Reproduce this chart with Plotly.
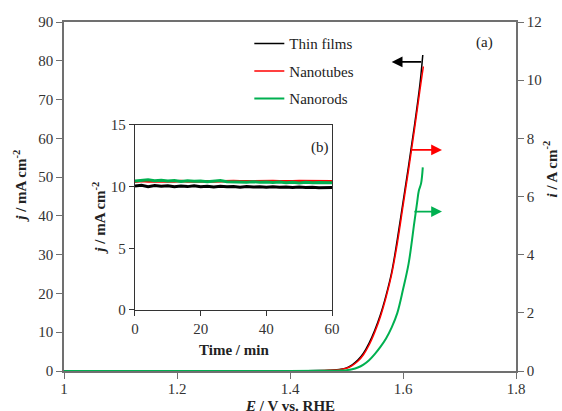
import plotly.graph_objects as go

# ---- main LSV data ----
E_tf = [1.00, 1.10, 1.20, 1.30, 1.40, 1.45, 1.47, 1.49, 1.50, 1.51, 1.52, 1.53, 1.54, 1.55,
        1.56, 1.57, 1.58, 1.59, 1.60, 1.61, 1.62, 1.63, 1.635]
j_thin_films = [0, 0, 0, 0, 0.02, 0.1, 0.2, 0.45, 0.8, 1.6, 2.8, 4.6, 7.2, 10.5,
                14.5, 19.5, 25.5, 34, 43.5, 53, 63, 74, 81.5]
E_nt = [1.00, 1.10, 1.20, 1.30, 1.40, 1.45, 1.47, 1.49, 1.50, 1.51, 1.52, 1.53, 1.54, 1.55,
        1.56, 1.57, 1.58, 1.59, 1.60, 1.61, 1.62, 1.63, 1.636]
i_nanotubes = [0, 0, 0, 0, 0.003, 0.011, 0.024, 0.053, 0.093, 0.187, 0.333, 0.56, 0.893, 1.333,
               1.867, 2.533, 3.333, 4.4, 5.667, 6.933, 8.267, 9.667, 10.47]
E_nr = [1.00, 1.10, 1.20, 1.30, 1.40, 1.45, 1.47, 1.49, 1.50, 1.51, 1.52, 1.53, 1.54, 1.55,
        1.56, 1.57, 1.58, 1.59, 1.60, 1.61, 1.62, 1.625, 1.628, 1.632, 1.635]
i_nanorods = [0, 0, 0, 0, 0.002, 0.005, 0.01, 0.02, 0.03, 0.06, 0.12, 0.22, 0.37, 0.58,
              0.83, 1.12, 1.5, 2.0, 2.8, 3.7, 5.1, 5.8, 6.2, 6.45, 7.0]

# ---- inset stability data ----
t_min = list(range(0, 61, 2))
j_tf_t = [10.05, 10.1, 10.0, 10.08, 10.02, 10.06, 9.98, 10.04, 10.0, 10.07, 9.99, 10.03, 9.97, 10.02,
          9.98, 10.0, 9.95, 10.01, 9.96, 9.99, 9.94, 9.98, 9.95, 9.97, 9.92, 9.96, 9.93, 9.95, 9.9, 9.94, 9.92]
j_nt_t = [10.4, 10.45, 10.42, 10.44, 10.4, 10.43, 10.41, 10.45, 10.42, 10.44, 10.4, 10.43, 10.42, 10.45,
          10.43, 10.46, 10.44, 10.45, 10.43, 10.46, 10.44, 10.45, 10.43, 10.46, 10.44, 10.45, 10.44, 10.46, 10.43, 10.45, 10.44]
j_nr_t = [10.45, 10.5, 10.55, 10.48, 10.52, 10.45, 10.5, 10.42, 10.48, 10.43, 10.46, 10.4, 10.45, 10.5,
          10.4, 10.38, 10.42, 10.36, 10.4, 10.35, 10.38, 10.33, 10.37, 10.32, 10.36, 10.3, 10.35, 10.31, 10.34, 10.3, 10.32]

BLACK = "#000000"
RED = "#ff0000"
GREEN = "#00b050"
FONT = "Liberation Serif"
AX = "#707070"
TXT = "#222222"

fig = go.Figure()
fig.add_trace(go.Scatter(x=E_tf, y=j_thin_films, name="Thin films", mode="lines", legendgroup="a",
                         line=dict(color=BLACK, width=1.5, shape="spline"), xaxis="x", yaxis="y"))
fig.add_trace(go.Scatter(x=E_nt, y=i_nanotubes, name="Nanotubes", mode="lines", legendgroup="b",
                         line=dict(color=RED, width=1.5, shape="spline"), xaxis="x", yaxis="y2"))
fig.add_trace(go.Scatter(x=E_nr, y=i_nanorods, name="Nanorods", mode="lines", legendgroup="c",
                         line=dict(color=GREEN, width=2, shape="spline"), xaxis="x", yaxis="y2"))

# inset traces
fig.add_trace(go.Scatter(x=t_min, y=j_nt_t, mode="lines", showlegend=False,
                         line=dict(color=RED, width=2.5), xaxis="x3", yaxis="y3"))
fig.add_trace(go.Scatter(x=t_min, y=j_nr_t, mode="lines", showlegend=False,
                         line=dict(color=GREEN, width=3), xaxis="x3", yaxis="y3"))
fig.add_trace(go.Scatter(x=t_min, y=j_tf_t, mode="lines", showlegend=False,
                         line=dict(color=BLACK, width=3), xaxis="x3", yaxis="y3"))

tickfont = dict(family=FONT, size=15, color="#333333")

fig.update_layout(
    width=562, height=411,
    margin=dict(l=64, r=46, t=22, b=40),
    paper_bgcolor="white", plot_bgcolor="white",
    font=dict(family=FONT, size=15, color=TXT),
    showlegend=True,
    legend=dict(x=0.41, y=0.985, xanchor="left", yanchor="top", bgcolor="rgba(0,0,0,0)",
                font=dict(family=FONT, size=15, color=TXT), itemwidth=30,
                tracegroupgap=5, traceorder="grouped"),
    xaxis=dict(domain=[0, 1], range=[1, 1.8], tickvals=[1, 1.2, 1.4, 1.6, 1.8],
               ticktext=["1", "1.2", "1.4", "1.6", "1.8"],
               showline=True, linecolor=AX, linewidth=1.5, mirror=True, ticks="outside",
               ticklen=6, tickcolor=AX, showgrid=False, zeroline=False, tickfont=tickfont,
               ticklabelstandoff=-3),
    yaxis=dict(range=[0, 90], tickvals=list(range(0, 91, 10)), showline=True, linecolor=AX,
               linewidth=1.5, ticks="outside", ticklen=6, tickcolor=AX, showgrid=False,
               zeroline=False, tickfont=tickfont),
    yaxis2=dict(range=[0, 12], tickvals=list(range(0, 13, 2)), overlaying="y", side="right",
                showline=True, linecolor=AX, linewidth=1.5, ticks="outside", ticklen=6,
                tickcolor=AX, showgrid=False, zeroline=False, tickfont=tickfont),
    xaxis3=dict(domain=[0.157, 0.593], anchor="y3", range=[0, 60], tickvals=[0, 20, 40, 60],
                showline=True, linecolor="#333333", linewidth=1.3, mirror=True, ticks="outside",
                ticklen=5, tickcolor="#333333", showgrid=False, zeroline=False, tickfont=tickfont),
    yaxis3=dict(domain=[0.175, 0.705], anchor="x3", range=[0, 15], tickvals=[0, 5, 10, 15],
                showline=True, linecolor="#333333", linewidth=1.3, mirror=True, ticks="outside",
                ticklen=5, tickcolor="#333333", showgrid=False, zeroline=False, tickfont=tickfont),
)

# inset background box
fig.add_shape(type="rect", xref="x3 domain", yref="y3 domain", x0=0, x1=1, y0=0, y1=1,
              fillcolor="white", line=dict(width=0), layer="below")

ann = []
# axis titles
ann.append(dict(text="<b><i>E</i> / V vs. RHE</b>", xref="paper", yref="paper", x=0.5, y=-0.072,
                xanchor="center", yanchor="top", showarrow=False, font=dict(family=FONT, size=15, color=TXT)))
ann.append(dict(text="<b><i>j</i> / mA cm<sup>-2</sup></b>", xref="paper", yref="paper", x=-0.098, y=0.53,
                xanchor="center", yanchor="middle", textangle=-90, showarrow=False,
                font=dict(family=FONT, size=15, color=TXT)))
ann.append(dict(text="<b><i>i</i> / A cm<sup>-2</sup></b>", xref="paper", yref="paper", x=1.075, y=0.58,
                xanchor="center", yanchor="middle", textangle=-90, showarrow=False,
                font=dict(family=FONT, size=15, color=TXT)))
ann.append(dict(text="<b><i>j</i> / mA cm<sup>-2</sup></b>", xref="paper", yref="paper", x=0.078, y=0.44,
                xanchor="center", yanchor="middle", textangle=-90, showarrow=False,
                font=dict(family=FONT, size=15, color=TXT)))
ann.append(dict(text="<b>Time / min</b>", xref="x3 domain", yref="paper", x=0.5, y=0.06,
                xanchor="center", yanchor="middle", showarrow=False,
                font=dict(family=FONT, size=15, color=TXT)))
# panel labels
ann.append(dict(text="(a)", xref="paper", yref="paper", x=0.93, y=0.94, xanchor="center",
                yanchor="middle", showarrow=False, font=dict(family=FONT, size=15, color=TXT)))
ann.append(dict(text="(b)", xref="x3 domain", yref="y3 domain", x=0.94, y=0.88, xanchor="center",
                yanchor="middle", showarrow=False, font=dict(family=FONT, size=15, color=TXT)))
# arrows
ann.append(dict(x=1.58, y=79.7, ax=1.635, ay=79.7, xref="x", yref="y", axref="x", ayref="y",
                showarrow=True, arrowhead=2, arrowsize=1.2, arrowwidth=1.8, arrowcolor=BLACK, text=""))
ann.append(dict(x=1.669, y=7.6, ax=1.612, ay=7.6, xref="x", yref="y2", axref="x", ayref="y2",
                showarrow=True, arrowhead=2, arrowsize=1.2, arrowwidth=1.8, arrowcolor=RED, text=""))
ann.append(dict(x=1.669, y=5.48, ax=1.6175, ay=5.48, xref="x", yref="y2", axref="x", ayref="y2",
                showarrow=True, arrowhead=2, arrowsize=1.2, arrowwidth=1.8, arrowcolor=GREEN, text=""))
fig.update_layout(annotations=ann)

fig.write_html("out.html")
